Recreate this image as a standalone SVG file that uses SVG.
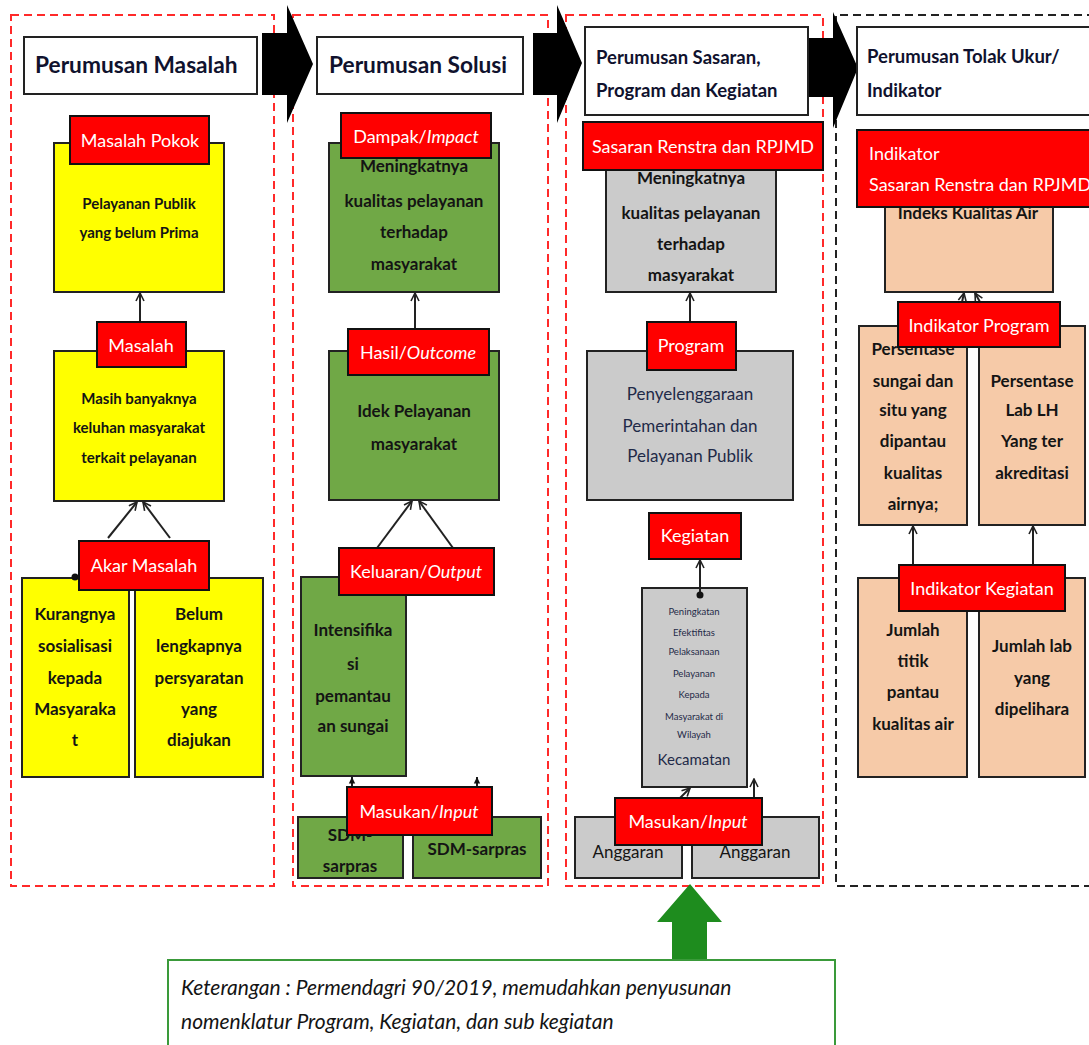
<svg xmlns="http://www.w3.org/2000/svg" width="1089" height="1045" viewBox="0 0 1089 1045">
<defs>
<style>
text{font-family:Lato,"Liberation Sans",sans-serif;fill:#141414}
.frame{fill:none;stroke:#ff2a2a;stroke-width:2;stroke-dasharray:8 5}
.frameb{fill:none;stroke:#222;stroke-width:2;stroke-dasharray:8 5}
.title{fill:#fff;stroke:#222;stroke-width:2}
.tt{font-size:22.7px;font-weight:bold;fill:#10122e}
.tt2{font-size:18.5px;font-weight:bold;fill:#10122e}
.lab{fill:#ff0000;stroke:#111;stroke-width:2}
.lt{fill:#fff;font-size:18px;text-anchor:middle}
.yel{fill:#ffff00;stroke:#222;stroke-width:2}
.grn{fill:#70a846;stroke:#222;stroke-width:2}
.gry{fill:#cbcbcb;stroke:#222;stroke-width:2}
.pch{fill:#f6caa8;stroke:#222;stroke-width:2}
.bt{font-size:17px;font-weight:bold;text-anchor:middle}
.bs{font-size:15px;font-weight:bold;text-anchor:middle}
.bx{font-size:9.5px;text-anchor:middle}
.reg{font-weight:normal}
.nv{fill:#1f2a48}
.con{fill:none;stroke:#222;stroke-width:2}
</style>
<marker id="oa" viewBox="0 0 10 10" refX="9" refY="5" markerWidth="10" markerHeight="10" orient="auto" markerUnits="userSpaceOnUse">
<path d="M1,1 L9,5 L1,9" fill="none" stroke="#222" stroke-width="1.6"/>
</marker>
<marker id="fa" viewBox="0 0 10 10" refX="9" refY="5" markerWidth="8" markerHeight="8" orient="auto" markerUnits="userSpaceOnUse">
<path d="M1,1 L9,5 L1,9 Z" fill="#111"/>
</marker>
</defs>
<rect width="1089" height="1045" fill="#fff"/>

<g id="frames">
<rect class="frame" x="11" y="15" width="263" height="871"/>
<rect class="frame" x="293" y="15" width="255" height="871"/>
<rect class="frame" x="566" y="15" width="257" height="871"/>
<path class="frameb" d="M1095,15 H836 V886 H1095"/>
</g>

<g id="flow-arrows">
<polygon points="262,33 287,33 287,5 313,64 287,123 287,95 262,95" fill="#000"/>
<polygon points="533,33 557,33 557,5 582,63 557,123 557,95 533,95" fill="#000"/>
<polygon points="808,38 833,38 833,12 858,68 833,128 833,97 808,97" fill="#000"/>
</g>

<g id="title-masalah"><rect class="title" x="24" y="37" width="233" height="57"/><text class="tt" x="35" y="73">Perumusan Masalah</text></g>
<g id="title-solusi"><rect class="title" x="317" y="37" width="206" height="57"/><text class="tt" x="329" y="73">Perumusan Solusi</text></g>
<g id="title-sasaran"><rect class="title" x="585" y="27" width="223" height="88"/><text class="tt2" x="596" y="64">Perumusan Sasaran,</text><text class="tt2" x="596" y="97">Program dan Kegiatan</text></g>
<g id="title-indikator"><rect class="title" x="857" y="27" width="240" height="88"/><text class="tt2" x="867" y="63">Perumusan Tolak Ukur/</text><text class="tt2" x="867" y="97">Indikator</text></g>

<g id="box-pelayanan-publik"><rect class="yel" x="54" y="143" width="170" height="149"/><text class="bs" x="139" y="209">Pelayanan Publik</text><text class="bs" x="139" y="238">yang belum Prima</text></g>
<g id="box-masih-banyaknya"><rect class="yel" x="54" y="351" width="170" height="150"/><text class="bs" x="139" y="404">Masih banyaknya</text><text class="bs" x="139" y="433">keluhan masyarakat</text><text class="bs" x="139" y="463">terkait pelayanan</text></g>
<g id="box-kurangnya"><rect class="yel" x="22" y="578" width="107" height="199"/><text class="bt" x="75" y="620">Kurangnya</text><text class="bt" x="75" y="652">sosialisasi</text><text class="bt" x="75" y="684">kepada</text><text class="bt" x="75" y="715">Masyaraka</text><text class="bt" x="75" y="746">t</text></g>
<g id="box-belum"><rect class="yel" x="135" y="578" width="128" height="199"/><text class="bt" x="199" y="620">Belum</text><text class="bt" x="199" y="652">lengkapnya</text><text class="bt" x="199" y="684">persyaratan</text><text class="bt" x="199" y="715">yang</text><text class="bt" x="199" y="746">diajukan</text></g>

<g id="box-dampak"><rect class="grn" x="329" y="143" width="170" height="149"/><text class="bt" x="414" y="172">Meningkatnya</text><text class="bt" x="414" y="207">kualitas pelayanan</text><text class="bt" x="414" y="238">terhadap</text><text class="bt" x="414" y="270">masyarakat</text></g>
<g id="box-idek"><rect class="grn" x="329" y="351" width="170" height="149"/><text class="bt" x="414" y="417">Idek Pelayanan</text><text class="bt" x="414" y="450">masyarakat</text></g>
<g id="box-intensifikasi"><rect class="grn" x="301" y="577" width="105" height="199"/><text class="bt" x="353" y="636">Intensifika</text><text class="bt" x="353" y="670">si</text><text class="bt" x="353" y="702">pemantau</text><text class="bt" x="353" y="732">an sungai</text></g>
<g id="box-sdm1"><rect class="grn" x="298" y="817" width="105" height="61"/><text class="bt" x="350" y="841">SDM-</text><text class="bt" x="350" y="872">sarpras</text></g>
<g id="box-sdm2"><rect class="grn" x="413" y="817" width="128" height="61"/><text class="bt" x="477" y="855">SDM-sarpras</text></g>

<g id="box-sasaran"><rect class="gry" x="606" y="165" width="170" height="127"/><text class="bt" x="691" y="184">Meningkatnya</text><text class="bt" x="691" y="219">kualitas pelayanan</text><text class="bt" x="691" y="250">terhadap</text><text class="bt" x="691" y="281">masyarakat</text></g>
<g id="box-program"><rect class="gry" x="587" y="351" width="206" height="149"/><text class="bt nv reg" x="690" y="400">Penyelenggaraan</text><text class="bt nv reg" x="690" y="432">Pemerintahan dan</text><text class="bt nv reg" x="690" y="462">Pelayanan Publik</text></g>
<g id="box-kegiatan"><rect class="gry" x="642" y="588" width="105" height="199"/><text class="bx nv" x="694" y="615">Peningkatan</text><text class="bx nv" x="694" y="636">Efektifitas</text><text class="bx nv" x="694" y="655">Pelaksanaan</text><text class="bx nv" x="694" y="677">Pelayanan</text><text class="bx nv" x="694" y="698">Kepada</text><text class="bx nv" x="694" y="720">Masyarakat  di</text><text class="bx nv" x="694" y="738">Wilayah</text><text class="bs nv reg" x="694" y="765">Kecamatan</text></g>
<g id="box-anggaran1"><rect class="gry" x="575" y="817" width="107" height="61"/><text class="bt reg" x="628" y="858">Anggaran</text></g>
<g id="box-anggaran2"><rect class="gry" x="692" y="817" width="127" height="61"/><text class="bt reg" x="755" y="858">Anggaran</text></g>

<g id="box-indeks"><rect class="pch" x="885" y="200" width="168" height="92"/><text class="bt" x="968" y="219">Indeks Kualitas Air</text></g>
<g id="box-persentase-sungai"><rect class="pch" x="859" y="326" width="108" height="199"/><text class="bt" x="913" y="355">Persentase</text><text class="bt" x="913" y="387">sungai dan</text><text class="bt" x="913" y="416">situ yang</text><text class="bt" x="913" y="447">dipantau</text><text class="bt" x="913" y="479">kualitas</text><text class="bt" x="913" y="510">airnya;</text></g>
<g id="box-persentase-lab"><rect class="pch" x="979" y="326" width="106" height="199"/><text class="bt" x="1032" y="387">Persentase</text><text class="bt" x="1032" y="416">Lab LH</text><text class="bt" x="1032" y="447">Yang ter</text><text class="bt" x="1032" y="479">akreditasi</text></g>
<g id="box-jumlah-titik"><rect class="pch" x="858" y="578" width="109" height="199"/><text class="bt" x="913" y="636">Jumlah</text><text class="bt" x="913" y="667">titik</text><text class="bt" x="913" y="698">pantau</text><text class="bt" x="913" y="730">kualitas air</text></g>
<g id="box-jumlah-lab"><rect class="pch" x="979" y="578" width="106" height="199"/><text class="bt" x="1032" y="652">Jumlah lab</text><text class="bt" x="1032" y="684">yang</text><text class="bt" x="1032" y="715">dipelihara</text></g>

<g id="connectors">
<line class="con" x1="140" y1="322" x2="140" y2="293" marker-end="url(#oa)"/>
<line class="con" x1="108" y1="538" x2="137" y2="502" marker-end="url(#oa)"/>
<line class="con" x1="170" y1="538" x2="143" y2="502" marker-end="url(#oa)"/>
<circle cx="75" cy="577" r="3.5" fill="#111"/>
<line class="con" x1="415" y1="329" x2="415" y2="293" marker-end="url(#oa)"/>
<line class="con" x1="377" y1="548" x2="412" y2="501" marker-end="url(#oa)"/>
<line class="con" x1="453" y1="548" x2="419" y2="501" marker-end="url(#oa)"/>
<line class="con" x1="352" y1="788" x2="352" y2="777" marker-end="url(#fa)"/>
<line class="con" x1="477" y1="788" x2="477" y2="777" marker-end="url(#fa)"/>
<line class="con" x1="690" y1="322" x2="690" y2="293" marker-end="url(#oa)"/>
<line class="con" x1="700" y1="595" x2="700" y2="560" marker-end="url(#oa)"/>
<circle cx="700" cy="595" r="3.5" fill="#111"/>
<line class="con" x1="680" y1="798" x2="690" y2="788" marker-end="url(#oa)"/>
<line class="con" x1="754" y1="798" x2="754" y2="779" marker-end="url(#oa)"/>
<line class="con" x1="962" y1="302" x2="964" y2="293" marker-end="url(#oa)"/>
<line class="con" x1="980" y1="302" x2="975" y2="293" marker-end="url(#oa)"/>
<line class="con" x1="913" y1="565" x2="913" y2="526" marker-end="url(#oa)"/>
<line class="con" x1="1033" y1="565" x2="1033" y2="526" marker-end="url(#oa)"/>
</g>

<g id="label-masalah-pokok"><rect class="lab" x="70" y="116" width="139" height="48"/><text class="lt" x="140" y="147">Masalah Pokok</text></g>
<g id="label-masalah"><rect class="lab" x="97" y="322" width="89" height="45"/><text class="lt" x="141" y="352">Masalah</text></g>
<g id="label-akar"><rect class="lab" x="79" y="541" width="130" height="49"/><text class="lt" x="144" y="572">Akar Masalah</text></g>
<g id="label-dampak"><rect class="lab" x="341" y="113" width="150" height="45"/><text class="lt" x="416" y="143">Dampak/<tspan font-style="italic">Impact</tspan></text></g>
<g id="label-hasil"><rect class="lab" x="348" y="329" width="141" height="46"/><text class="lt" x="418" y="359">Hasil/<tspan font-style="italic">Outcome</tspan></text></g>
<g id="label-keluaran"><rect class="lab" x="339" y="548" width="155" height="47"/><text class="lt" x="416" y="578">Keluaran/<tspan font-style="italic">Output</tspan></text></g>
<g id="label-masukan-solusi"><rect class="lab" x="347" y="787" width="145" height="48"/><text class="lt" x="419" y="818">Masukan/<tspan font-style="italic">Input</tspan></text></g>
<g id="label-sasaran"><rect class="lab" x="583" y="122" width="240" height="48"/><text class="lt" x="703" y="153">Sasaran Renstra dan RPJMD</text></g>
<g id="label-program"><rect class="lab" x="647" y="322" width="89" height="48"/><text class="lt" x="691" y="352">Program</text></g>
<g id="label-kegiatan"><rect class="lab" x="649" y="513" width="92" height="46"/><text class="lt" x="695" y="542">Kegiatan</text></g>
<g id="label-masukan-kegiatan"><rect class="lab" x="615" y="798" width="147" height="47"/><text class="lt" x="688" y="828">Masukan/<tspan font-style="italic">Input</tspan></text></g>
<g id="label-indikator-sasaran"><rect class="lab" x="857" y="130" width="240" height="77"/><text class="lt" x="869" y="160" style="text-anchor:start">Indikator</text><text class="lt" x="869" y="191" style="text-anchor:start">Sasaran Renstra dan RPJMD</text></g>
<g id="label-indikator-program"><rect class="lab" x="898" y="302" width="162" height="45"/><text class="lt" x="979" y="332">Indikator Program</text></g>
<g id="label-indikator-kegiatan"><rect class="lab" x="899" y="565" width="166" height="46"/><text class="lt" x="982" y="595">Indikator Kegiatan</text></g>

<g id="green-arrow"><polygon points="690,884 722,922 707,922 707,962 672,962 672,922 657,922" fill="#1e8c1e"/></g>
<g id="keterangan"><rect x="168" y="960" width="667" height="95" fill="#fff" stroke="#3a9a3a" stroke-width="2"/><text x="181" y="995" font-size="21" font-style="italic" fill="#333">Keterangan : Permendagri 90/2019, memudahkan penyusunan</text><text x="181" y="1029" font-size="21" font-style="italic" fill="#333">nomenklatur Program, Kegiatan, dan sub kegiatan</text></g>
</svg>
